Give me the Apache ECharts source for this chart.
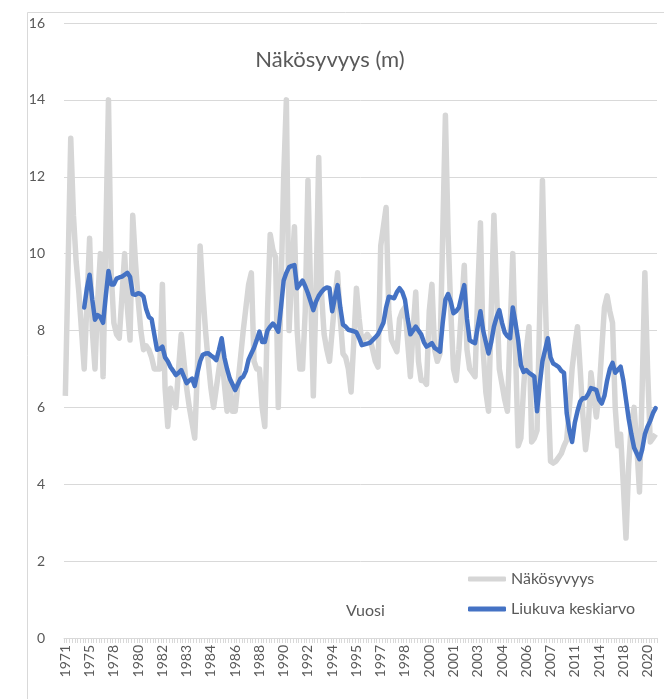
<!DOCTYPE html>
<html>
<head>
<meta charset="utf-8">
<script src="https://cdn.jsdelivr.net/npm/echarts@6/dist/echarts.min.js"></script>
<style>
  html, body { margin: 0; padding: 0; background: #fff; }
  #main { width: 664px; height: 699px; }
</style>
</head>
<body>
<div id="main"></div>
<script>
  // vuodet ja mittausten määrä per vuosi (kategoriat)
  const yearCounts = [
    [1971, 3], [1972, 2], [1973, 2], [1974, 2], [1975, 3], [1976, 3], [1977, 3],
    [1978, 5], [1979, 4], [1980, 5], [1981, 4], [1982, 9], [1983, 9], [1984, 5],
    [1985, 4], [1986, 5], [1987, 4], [1988, 5], [1989, 4], [1990, 5], [1991, 4],
    [1992, 5], [1993, 4], [1994, 9], [1995, 5], [1996, 4], [1997, 9], [1998, 5],
    [1999, 4], [2000, 9], [2001, 5], [2002, 4], [2003, 9], [2004, 5], [2005, 4],
    [2006, 9], [2007, 3], [2008, 2], [2009, 2], [2010, 2], [2011, 3], [2012, 3],
    [2013, 3], [2014, 3], [2015, 2], [2016, 2], [2017, 2], [2018, 5], [2019, 4],
    [2020, 4]
  ]

  const nakosyvyys = [
    6.3, 9.6, 13.0, 11.0, 9.8, 9.0, 8.0, 7.0, 8.7, 10.4,
    8.0, 7.0, 8.8, 10.0, 6.8, 10.4, 14.0, 9.5, 8.2, 7.9,
    7.8, 8.9, 10.0, 8.6, 7.75, 11.0, 9.8, 8.8, 8.0, 7.5,
    7.6, 7.5, 7.3, 7.0, 7.0, 7.0, 9.2, 6.5, 5.5, 6.5,
    6.2, 6.0, 7.0, 7.9, 7.2, 6.5, 6.0, 5.6, 5.2, 7.0,
    10.2, 9.0, 8.0, 7.2, 6.5, 6.0, 6.5, 7.0, 7.5, 6.6,
    5.9, 6.7, 5.9, 5.9, 6.6, 7.3, 8.0, 8.6, 9.2, 9.5,
    7.2, 7.0, 7.0, 6.0, 5.5, 8.5, 10.5, 10.1, 9.9, 6.0,
    9.0, 12.0, 14.0, 8.0, 9.5, 10.7, 8.0, 7.0, 7.0, 8.5,
    11.9, 9.0, 6.3, 9.0, 12.5, 9.0, 7.9, 7.5, 7.2, 8.0,
    8.8, 9.5, 8.3, 7.4, 7.3, 7.0, 6.4, 7.7, 9.1, 8.3,
    7.7, 7.8, 7.9, 7.8, 7.5, 7.2, 7.05, 10.2, 10.7, 11.2,
    8.5, 7.75, 7.6, 7.45, 8.3, 8.5, 8.6, 7.7, 6.8, 8.0,
    9.0, 7.2, 6.7, 6.7, 6.6, 8.5, 9.2, 7.5, 7.2, 7.4,
    10.5, 13.6, 10.5, 8.5, 7.0, 6.7, 7.5, 8.6, 9.7, 7.5,
    7.0, 6.9, 6.8, 9.0, 10.8, 7.5, 6.4, 5.9, 8.5, 11.0,
    9.0, 7.0, 6.6, 6.2, 5.9, 8.0, 10.0, 7.5, 5.0, 5.2,
    6.5, 7.5, 8.1, 5.1, 5.2, 5.4, 8.5, 11.9, 9.0, 6.5,
    4.6, 4.55, 4.6, 4.7, 4.8, 5.0, 5.15, 6.0, 7.0, 7.6,
    8.1, 7.0, 5.8, 4.9, 5.5, 6.9, 6.3, 5.75, 6.4, 7.5,
    8.6, 8.9, 8.5, 8.2, 6.0, 5.0, 5.3, 4.0, 2.6, 4.5,
    5.6, 6.0, 5.0, 3.8, 6.5, 9.5, 7.0, 5.1, 5.2, 5.3
  ]

  const liukuva = [
    null, null, null, null, null, null, null, 8.6, 9.1, 9.45,
    8.8, 8.28, 8.4, 8.35, 8.2, 8.9, 9.55, 9.2, 9.2, 9.35,
    9.38, 9.4, 9.45, 9.5, 9.4, 8.95, 8.93, 8.97, 8.95, 8.88,
    8.55, 8.35, 8.3, 7.9, 7.5, 7.52, 7.58, 7.3, 7.2, 7.05,
    6.95, 6.84, 6.9, 6.97, 6.8, 6.63, 6.7, 6.75, 6.56, 6.9,
    7.2, 7.37, 7.4, 7.41, 7.35, 7.3, 7.23, 7.5, 7.8, 7.3,
    7.0, 6.75, 6.6, 6.45, 6.6, 6.75, 6.8, 6.95, 7.25, 7.4,
    7.55, 7.75, 7.97, 7.7, 7.7, 8.0, 8.1, 8.18, 8.1, 7.97,
    8.6, 9.3, 9.5, 9.65, 9.68, 9.7, 9.1, 9.2, 9.3, 9.15,
    8.97, 8.75, 8.53, 8.75, 8.9, 9.0, 9.08, 9.12, 9.1, 8.5,
    8.85, 9.18, 8.6, 8.15, 8.1, 8.02, 8.0, 7.98, 7.95, 7.8,
    7.62, 7.64, 7.66, 7.68, 7.75, 7.82, 7.9, 8.05, 8.2, 8.6,
    8.88, 8.86, 8.84, 9.0, 9.1, 9.0, 8.8, 8.3, 7.9, 8.0,
    8.1, 8.0, 7.9, 7.7, 7.58, 7.62, 7.67, 7.55, 7.5, 7.45,
    8.2, 8.8, 8.95, 8.75, 8.45, 8.5, 8.6, 8.9, 9.18, 8.3,
    7.75, 7.7, 7.67, 8.1, 8.5, 8.0, 7.7, 7.4, 7.7, 8.1,
    8.35, 8.53, 8.2, 7.95, 7.85, 7.8, 8.6, 8.2, 7.75, 7.1,
    6.92, 6.97, 6.9, 6.85, 6.8, 5.9, 6.6, 7.2, 7.5, 7.8,
    7.3, 7.14, 7.1, 7.05, 6.95, 6.9, 5.85, 5.4, 5.1, 5.6,
    5.9, 6.15, 6.24, 6.24, 6.35, 6.5, 6.48, 6.45, 6.2, 6.1,
    6.3, 6.7, 7.0, 7.16, 6.9, 6.98, 7.06, 6.7, 6.2, 5.7,
    5.3, 4.95, 4.8, 4.65, 4.9, 5.3, 5.5, 5.65, 5.85, 5.98
  ]

  const categories = []
  yearCounts.forEach(([year, n]) => {
    for (let k = 0; k < n; k++) categories.push(String(year))
  })

  const font = 'Lato, "Open Sans", sans-serif'
  const textColor = '#595959'
  const gridColor = '#d9d9d9'

  const myChart = echarts.init(document.getElementById('main'))
  myChart.setOption({
    animation: false,
    backgroundColor: '#fff',
    textStyle: { fontFamily: font },
    title: {
      text: 'Näkösyvyys (m)',
      left: 325,
      textAlign: 'center',
      top: 44,
      textStyle: { fontFamily: font, fontSize: 22, fontWeight: 'normal', color: textColor }
    },
    legend: {
      orient: 'vertical',
      left: 468,
      top: 571,
      padding: 0,
      itemGap: 14,
      itemWidth: 38,
      itemHeight: 5,
      icon: 'roundRect',
      textStyle: { fontFamily: font, fontSize: 16, color: textColor },
      data: ['Näkösyvyys', 'Liukuva keskiarvo']
    },
    graphic: [
      { type: 'line', shape: { x1: 27.5, y1: 12.5, x2: 27.5, y2: 699 }, style: { stroke: gridColor, lineWidth: 1 } },
      { type: 'line', shape: { x1: 27.5, y1: 12.5, x2: 664, y2: 12.5 }, style: { stroke: gridColor, lineWidth: 1 } },
      {
        type: 'text', left: 346, top: 603,
        style: { text: 'Vuosi', fontFamily: font, fontSize: 16, fill: textColor }
      }
    ],
    grid: { left: 64, right: 7, top: 23, bottom: 61, containLabel: false },
    xAxis: {
      type: 'category',
      data: categories,
      boundaryGap: true,
      axisLine: { lineStyle: { color: gridColor } },
      axisTick: { show: true, interval: 0, length: 5, lineStyle: { color: gridColor } },
      axisLabel: {
        interval: 8,
        rotate: 90,
        margin: 7,
        fontFamily: font,
        fontSize: 14,
        color: textColor
      }
    },
    yAxis: {
      type: 'value',
      min: 0,
      max: 16,
      interval: 2,
      axisLine: { show: false },
      axisTick: { show: false },
      axisLabel: { margin: 19, fontFamily: font, fontSize: 14, color: textColor },
      splitLine: { lineStyle: { color: gridColor, width: 1 } }
    },
    series: [
      {
        name: 'Näkösyvyys',
        type: 'line',
        data: nakosyvyys,
        symbol: 'none',
        color: '#d6d6d6',
        lineStyle: { color: '#d6d6d6', width: 5.5, join: 'round' }
      },
      {
        name: 'Liukuva keskiarvo',
        type: 'line',
        data: liukuva,
        symbol: 'none',
        color: '#4472c4',
        lineStyle: { color: '#4472c4', width: 4.5, join: 'round', cap: 'round' }
      }
    ]
  })
</script>
</body>
</html>
